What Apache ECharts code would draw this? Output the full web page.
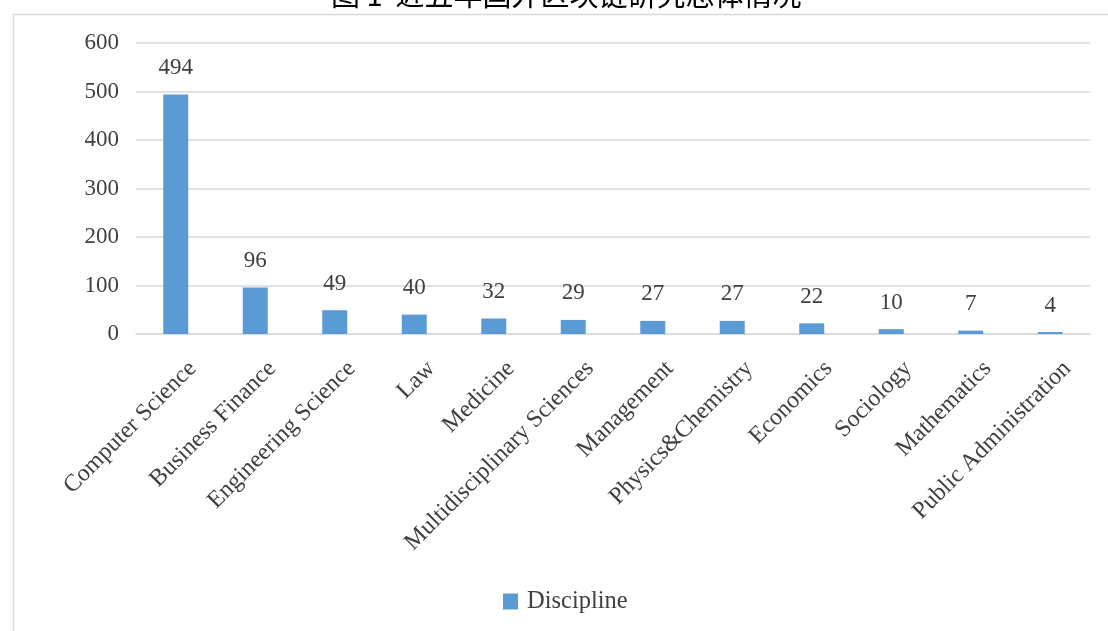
<!DOCTYPE html>
<html>
<head>
<meta charset="utf-8">
<script src="https://cdn.jsdelivr.net/npm/echarts@6/dist/echarts.min.js"></script>
<style>
html,body{margin:0;padding:0;background:#fff;}
#chart{width:1108px;height:631px;}
</style>
</head>
<body>
<div id="chart"></div>
<script>
const titleText = '图 1  近五年国外区块链研究总体情况';
const seriesName = 'Discipline';
const categories = ['Computer Science','Business Finance','Engineering Science','Law','Medicine','Multidisciplinary Sciences','Management','Physics&Chemistry','Economics','Sociology','Mathematics','Public Administration'];
const values = [494, 96, 49, 40, 32, 29, 27, 27, 22, 10, 7, 4];
const yTicks = [0, 100, 200, 300, 400, 500, 600];

const serif = '"Liberation Serif", "Times New Roman", serif';
const chart = echarts.init(document.getElementById('chart'));
chart.setOption({
  backgroundColor: '#fff',
  animation: false,
  title: {
    text: titleText,
    left: 326,
    top: -25,
    textStyle: { fontFamily: '"Noto Sans CJK SC", sans-serif', fontSize: 29, fontWeight: 'normal', color: '#000' }
  },
  graphic: [{
    type: 'rect', left: 11, top: 12, silent: true, z: -1,
    shape: { width: 1120, height: 640 },
    style: { fill: 'none', stroke: '#d9d9d9', lineWidth: 1.5 }
  }],
  legend: {
    data: [seriesName],
    bottom: 12,
    left: 498,
    itemWidth: 15, itemHeight: 16,
    icon: 'rect',
    textStyle: { fontFamily: serif, fontSize: 24.5, color: '#404040', padding: [0, 0, 0, 4] }
  },
  grid: { left: 136, right: 18, top: 43, bottom: 297 },
  xAxis: {
    type: 'category',
    data: categories,
    axisLine: { show: true, lineStyle: { color: '#d9d9d9', width: 1.5 } },
    axisTick: { show: false },
    axisLabel: { rotate: 45, interval: 0, margin: 14, verticalAlign: 'top', padding: [12, 0, 0, 0], fontFamily: serif, fontSize: 24, color: '#404040' }
  },
  yAxis: {
    type: 'value',
    min: yTicks[0], max: yTicks[yTicks.length - 1], interval: 100,
    axisLine: { show: false }, axisTick: { show: false },
    splitLine: { lineStyle: { color: '#d9d9d9', width: 1.5 } },
    axisLabel: { margin: 17, fontFamily: serif, fontSize: 23, color: '#404040' }
  },
  series: [{
    name: seriesName,
    type: 'bar',
    data: values,
    barWidth: 25,
    itemStyle: { color: '#5b9bd5' },
    label: { show: true, position: 'top', distance: 15, fontFamily: serif, fontSize: 23, color: '#404040' }
  }]
});
</script>
</body>
</html>
